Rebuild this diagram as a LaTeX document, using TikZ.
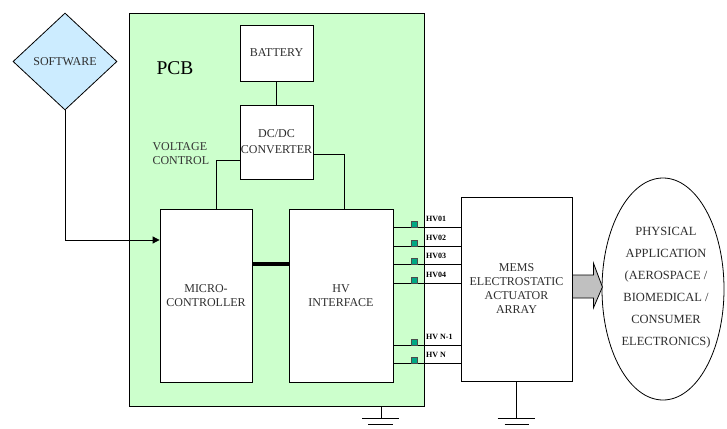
\documentclass[tikz,border=0pt]{standalone}
\usepackage{fontspec}
\setmainfont{Liberation Serif}
\usetikzlibrary{shapes.geometric,arrows.meta}
\definecolor{pcbgreen}{HTML}{CCFFCC}
\definecolor{swblue}{HTML}{CCECFF}
\definecolor{padteal}{HTML}{00A884}
\definecolor{txtgray}{HTML}{2E2E2E}
\definecolor{arrgray}{HTML}{C0C0C0}
\tikzset{
  blk/.style={draw, fill=white, inner sep=0pt, line width=0.8pt},
  btxt/.style={text=txtgray, align=center, font=\fontsize{12}{14}\selectfont},
  hvlbl/.style={anchor=west, inner sep=0pt, font=\fontsize{8}{9}\selectfont\bfseries},
  pad/.style={draw=black!70, fill=padteal, line width=0.5pt, minimum width=6pt, minimum height=6pt, inner sep=0pt},
  wire/.style={line width=0.8pt},
}
\begin{document}
\begin{tikzpicture}[x=1pt,y=-1pt]
\useasboundingbox (0,0) rectangle (727,428);
% PCB
\node[draw, fill=pcbgreen, line width=0.9pt, inner sep=0pt, minimum width=295pt, minimum height=393pt] (pcb) at (276.5,209.5) {};
\node[font=\fontsize{19.5}{22}\selectfont, text=black] (pcbl) at (175,68) {PCB};
\node[btxt, anchor=west, align=left, text=black!80] (vc) at (149,154) {VOLTAGE\\CONTROL};
% Software diamond
\node[diamond, draw, fill=swblue, line width=0.8pt, aspect=1.07, inner sep=0pt, minimum width=104pt, minimum height=97pt] (sw) at (65,61.5) {};
\node[btxt, font=\fontsize{12}{14}\selectfont] (swl) at (sw) {SOFTWARE};
% Blocks
\node[blk, minimum width=73pt, minimum height=56pt] (bat) at (276.5,53) {};
\node[btxt] at (bat) {BATTERY};
\node[blk, minimum width=73pt, minimum height=74pt] (dcdc) at (276.5,142) {};
\node[btxt, font=\fontsize{12}{16}\selectfont] at (276.5,142) {DC/DC\\CONVERTER};
\node[blk, minimum width=92pt, minimum height=173pt] (mc) at (206,295.5) {};
\node[btxt] at (206,296) {MICRO-\\CONTROLLER};
\node[blk, minimum width=104pt, minimum height=173pt] (hv) at (341,295.5) {};
\node[btxt] at (341,296) {HV\\INTERFACE};
\node[blk, minimum width=111pt, minimum height=184pt] (mems) at (516.5,289) {};
\node[btxt] at (516.5,289) {MEMS\\ELECTROSTATIC\\ACTUATOR\\ARRAY};
% Application ellipse
\node[ellipse, draw, fill=white, line width=0.8pt, inner sep=0pt, minimum width=122pt, minimum height=222pt] (app) at (663,289) {};
\node[btxt, font=\fontsize{12.5}{22}\selectfont] at (666,288) {PHYSICAL\\APPLICATION\\(AEROSPACE /\\BIOMEDICAL /\\CONSUMER\\ELECTRONICS)};
% Connectors
\draw[wire] (bat.south) -- (dcdc.north);
\draw[wire] ([yshift=-18pt]dcdc.west) -| ([xshift=10pt]mc.north);
\draw[wire] ([yshift=-12pt]dcdc.east) -| ([xshift=3pt]hv.north);
\draw[wire, -{Triangle[length=7pt,width=7pt]}] (sw.south) |- ([yshift=55.5pt]mc.west);
\draw[line width=4pt] ([yshift=31.5pt]mc.east) -- ([yshift=31.5pt]hv.west);
% HV output lines
\foreach \y/\t [count=\i] in {227/HV01,246/HV02,264/HV03,283/HV04,345/HV N-1,363/HV N}{
  \coordinate (l\i) at (0,\y);
  \draw[line width=0.9pt] (hv.east |- l\i) -- (mems.west |- l\i);
  \node[pad] (sq\i) at (414,\y-3) {};
  \node[hvlbl] (t\i) at (426,\y-8) {\t};
}
% big arrow
\draw[fill=arrgray, line width=0.8pt] ([yshift=14pt]mems.east) -- ++(21,0) -- ++(0,-12) -- ++(9,24) -- ++(-9,21) -- ++(0,-10) -- ++(-21,0) -- cycle;
% grounds
\coordinate (g1) at (381,418);
\draw[wire] (g1 |- pcb.south) -- (g1);
\draw[wire] ([xshift=-19pt]g1) -- ([xshift=18pt]g1);
\draw[wire] ([shift={(-13pt,-6pt)}]g1) -- ([shift={(12pt,-6pt)}]g1);
\coordinate (g2) at (516.5,418);
\draw[wire] (mems.south) -- (g2);
\draw[wire] ([xshift=-19pt]g2) -- ([xshift=18pt]g2);
\draw[wire] ([shift={(-12pt,-6pt)}]g2) -- ([shift={(12pt,-6pt)}]g2);
\end{tikzpicture}
\end{document}
